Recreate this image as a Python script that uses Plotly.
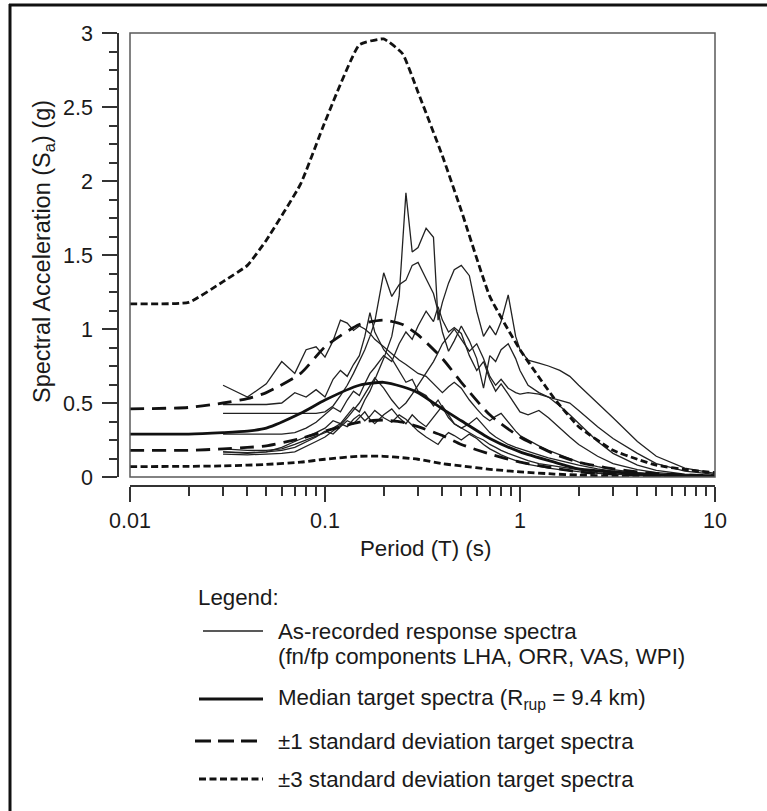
import plotly.graph_objects as go

W, H = 767, 811
ML, MR, MT, MB = 118, 52, 33, 325
PW = W - ML - MR
PH = H - MT - MB

# ---------------- data ----------------
T_target = [0.01, 0.02, 0.03, 0.04, 0.05, 0.075, 0.1, 0.15, 0.2, 0.25, 0.3,
            0.4, 0.5, 0.7, 1.0, 1.5, 2.0, 3.0, 4.0, 5.0, 7.5, 10.0]
median = [0.29, 0.29, 0.30, 0.31, 0.33, 0.43, 0.52, 0.62, 0.64, 0.61, 0.57,
          0.46, 0.38, 0.26, 0.17, 0.10, 0.055, 0.035, 0.022, 0.015, 0.008, 0.005]
plus1 = [0.46, 0.47, 0.50, 0.53, 0.57, 0.70, 0.88, 1.03, 1.06, 1.03, 0.96,
         0.80, 0.64, 0.42, 0.27, 0.155, 0.10, 0.055, 0.035, 0.024, 0.013, 0.008]
minus1 = [0.18, 0.18, 0.19, 0.20, 0.21, 0.26, 0.31, 0.37, 0.385, 0.37, 0.34,
          0.28, 0.22, 0.155, 0.10, 0.06, 0.035, 0.02, 0.013, 0.009, 0.005, 0.003]
plus3 = [1.17, 1.18, 1.32, 1.43, 1.60, 1.98, 2.40, 2.92, 2.96, 2.86, 2.60,
         2.17, 1.80, 1.22, 0.86, 0.53, 0.34, 0.18, 0.12, 0.08, 0.045, 0.03]
minus3 = [0.07, 0.072, 0.075, 0.08, 0.085, 0.10, 0.12, 0.14, 0.14, 0.13, 0.12,
          0.09, 0.075, 0.052, 0.035, 0.02, 0.013, 0.007, 0.004, 0.003, 0.0015, 0.001]

T_rec = [0.03, 0.04, 0.05, 0.06, 0.07, 0.08, 0.09, 0.10,
         0.11, 0.12, 0.13, 0.14, 0.15, 0.16, 0.17, 0.18,
         0.20, 0.22, 0.24, 0.26, 0.28, 0.30,
         0.33, 0.36, 0.38, 0.40, 0.43, 0.46, 0.50,
         0.55, 0.60, 0.65, 0.70, 0.75, 0.80, 0.87, 0.95,
         1.0, 1.1, 1.25, 1.4, 1.6, 1.8, 2.0,
         2.5, 3.0, 4.0, 5.0, 7.0, 10.0]

LHA_fn = [0.62, 0.54, 0.63, 0.78, 0.70, 0.86, 0.88, 0.81,
          0.92, 1.06, 1.04, 0.99, 1.02, 1.00, 0.97, 0.93,
          0.88, 0.83, 0.79, 0.76, 0.73, 0.70,
          0.68, 0.63, 0.60, 0.57, 0.61, 0.64, 0.60,
          0.52, 0.46, 0.41, 0.38, 0.41, 0.43, 0.37, 0.31,
          0.28, 0.25, 0.21, 0.18, 0.15, 0.12, 0.10,
          0.07, 0.05, 0.03, 0.02, 0.012, 0.007]
LHA_fp = [0.17, 0.16, 0.17, 0.20, 0.24, 0.27, 0.30, 0.33,
          0.38, 0.36, 0.42, 0.47, 0.44, 0.52, 0.58, 0.66,
          0.80, 0.95, 1.22, 1.92, 1.52, 1.55,
          1.68, 1.62, 1.06, 1.18, 1.31, 1.40, 1.43,
          1.36, 1.12, 0.95, 1.02, 0.96, 1.05, 1.23, 0.95,
          0.86, 0.79, 0.77, 0.75, 0.72, 0.68, 0.62,
          0.50, 0.40, 0.24, 0.14, 0.06, 0.025]
ORR_fn = [0.49, 0.49, 0.49, 0.50, 0.57, 0.54, 0.59, 0.54,
          0.66, 0.72, 0.68, 0.76, 0.82, 0.95, 1.11, 0.98,
          0.86, 0.80, 0.72, 0.64, 0.66, 0.58,
          0.55, 0.48, 0.52, 0.47, 0.40, 0.36, 0.33,
          0.30, 0.27, 0.25, 0.22, 0.20, 0.18, 0.16, 0.14,
          0.13, 0.11, 0.09, 0.08, 0.065, 0.055, 0.045,
          0.03, 0.022, 0.014, 0.01, 0.006, 0.004]
ORR_fp = [0.43, 0.43, 0.43, 0.43, 0.43, 0.43, 0.43, 0.44,
          0.48, 0.55, 0.62, 0.70, 0.78, 0.86, 0.95, 1.05,
          1.38, 1.22, 1.30, 1.33, 1.43, 1.45,
          1.34, 1.24, 1.12, 0.98, 0.85, 0.92, 1.02,
          0.92, 0.80, 0.60, 0.82, 0.78, 0.86, 0.90, 0.80,
          0.72, 0.62, 0.57, 0.54, 0.52, 0.50, 0.45,
          0.34, 0.26, 0.16, 0.09, 0.04, 0.018]
VAS_fn = [0.29, 0.29, 0.29, 0.29, 0.30, 0.33, 0.37, 0.42,
          0.47, 0.44, 0.52, 0.58, 0.55, 0.63, 0.70, 0.74,
          0.82, 0.78, 0.90, 0.98, 0.93, 1.02,
          1.12, 1.05, 1.15, 1.06, 0.98, 1.01, 0.97,
          0.82, 0.72, 0.78, 0.66, 0.58, 0.63, 0.56, 0.48,
          0.44, 0.42, 0.45, 0.40, 0.33, 0.27, 0.22,
          0.14, 0.09, 0.05, 0.03, 0.016, 0.009]
VAS_fp = [0.19, 0.18, 0.18, 0.19, 0.22, 0.25, 0.28, 0.30,
          0.33, 0.36, 0.34, 0.39, 0.42, 0.38, 0.41, 0.45,
          0.40, 0.37, 0.42, 0.39, 0.35, 0.31,
          0.27, 0.24, 0.22, 0.26, 0.30, 0.28, 0.25,
          0.29, 0.26, 0.22, 0.19, 0.17, 0.15, 0.13, 0.11,
          0.10, 0.085, 0.07, 0.06, 0.05, 0.042, 0.036,
          0.025, 0.018, 0.011, 0.008, 0.005, 0.003]
WPI_fn = [0.17, 0.165, 0.17, 0.18, 0.20, 0.24, 0.27, 0.31,
          0.29, 0.34, 0.38, 0.36, 0.40, 0.44, 0.39, 0.36,
          0.42, 0.46, 0.40, 0.36, 0.42, 0.38,
          0.34, 0.40, 0.44, 0.48, 0.42, 0.36, 0.33,
          0.36, 0.40, 0.35, 0.30, 0.27, 0.25, 0.22, 0.20,
          0.19, 0.17, 0.15, 0.13, 0.11, 0.095, 0.08,
          0.055, 0.04, 0.024, 0.016, 0.009, 0.005]
WPI_fp = [0.155, 0.15, 0.155, 0.16, 0.17, 0.21, 0.24, 0.27,
          0.31, 0.35, 0.40, 0.45, 0.50, 0.56, 0.62, 0.67,
          0.60, 0.52, 0.46, 0.50, 0.56, 0.62,
          0.70, 0.78, 0.84, 0.90, 0.95, 1.00, 0.93,
          0.85, 0.90, 0.80, 0.68, 0.62, 0.66, 0.60, 0.57,
          0.56, 0.57, 0.56, 0.54, 0.48, 0.42, 0.36,
          0.24, 0.16, 0.08, 0.045, 0.02, 0.01]

recorded = {"LHA fn": LHA_fn, "LHA fp": LHA_fp, "ORR fn": ORR_fn, "ORR fp": ORR_fp,
            "VAS fn": VAS_fn, "VAS fp": VAS_fp, "WPI fn": WPI_fn, "WPI fp": WPI_fp}

x_tickvals = [0.01, 0.1, 1, 10]
x_ticktext = ["0.01", "0.1", "1", "10"]
x_minor = [0.02, 0.03, 0.04, 0.05, 0.06, 0.07, 0.08, 0.09,
           0.2, 0.3, 0.4, 0.5, 0.6, 0.7, 0.8, 0.9,
           2, 3, 4, 5, 6, 7, 8, 9]
y_tickvals = [0, 0.5, 1, 1.5, 2, 2.5, 3]
y_ticktext = ["0", "0.5", "1", "1.5", "2", "2.5", "3"]

legend_rows = [
    ("As-recorded response spectra", "(fn/fp components LHA, ORR, VAS, WPI)"),
    ("Median target spectra (R<sub>rup</sub> = 9.4 km)", None),
    ("\u00b11 standard deviation target spectra", None),
    ("\u00b13 standard deviation target spectra", None),
]

# ---------------- helpers ----------------
def px_x(px):
    return (px - ML) / PW

def px_y(py):
    return (H - MB - py) / PH

FONT = "Liberation Sans, Arial, sans-serif"
TXT = "#1a1a1a"
INK = "#111111"
HS = 22.3   # horizontal text size
TS = 21.5   # tick label size

fig = go.Figure()

for name, vals in recorded.items():
    fig.add_trace(go.Scatter(x=T_rec, y=vals, mode="lines", name=name,
                             line=dict(color="#222222", width=1.3),
                             showlegend=False))

fig.add_trace(go.Scatter(x=T_target, y=minus3, mode="lines", name="-3 sigma",
                         line=dict(color=INK, width=2.8, dash="7px,3.5px", shape="spline", smoothing=0.6),
                         showlegend=False))
fig.add_trace(go.Scatter(x=T_target, y=plus3, mode="lines", name="+3 sigma",
                         line=dict(color=INK, width=2.8, dash="7px,3.5px", shape="spline", smoothing=0.4),
                         showlegend=False))
fig.add_trace(go.Scatter(x=T_target, y=minus1, mode="lines", name="-1 sigma",
                         line=dict(color=INK, width=2.8, dash="14px,8px", shape="spline", smoothing=0.6),
                         showlegend=False))
fig.add_trace(go.Scatter(x=T_target, y=plus1, mode="lines", name="+1 sigma",
                         line=dict(color=INK, width=2.8, dash="14px,8px", shape="spline", smoothing=0.6),
                         showlegend=False))
fig.add_trace(go.Scatter(x=T_target, y=median, mode="lines", name="median",
                         line=dict(color=INK, width=2.8, shape="spline", smoothing=0.6),
                         showlegend=False))

shapes = []
# plot frame
shapes.append(dict(type="rect", xref="x domain", yref="y domain", x0=0, x1=1, y0=0, y1=1,
                   line=dict(color="#5a5a5a", width=1.5), layer="above"))
# outer border (left and top)
shapes.append(dict(type="line", xref="paper", yref="paper", x0=px_x(10), x1=px_x(10),
                   y0=px_y(4), y1=px_y(820), line=dict(color="#111111", width=3)))
shapes.append(dict(type="line", xref="paper", yref="paper", x0=px_x(9), x1=px_x(780),
                   y0=px_y(5), y1=px_y(5), line=dict(color="#111111", width=3)))

# legend samples
leg_y = [631, 699, 741, 779]
shapes.append(dict(type="line", xref="paper", yref="paper", x0=px_x(203), x1=px_x(263),
                   y0=px_y(leg_y[0]), y1=px_y(leg_y[0]), line=dict(color="#222222", width=1.3)))
shapes.append(dict(type="line", xref="paper", yref="paper", x0=px_x(199), x1=px_x(263),
                   y0=px_y(leg_y[1]), y1=px_y(leg_y[1]), line=dict(color=INK, width=3)))
shapes.append(dict(type="line", xref="paper", yref="paper", x0=px_x(195), x1=px_x(263),
                   y0=px_y(leg_y[2]), y1=px_y(leg_y[2]), line=dict(color=INK, width=3, dash="16px,7px")))
shapes.append(dict(type="line", xref="paper", yref="paper", x0=px_x(199), x1=px_x(263),
                   y0=px_y(leg_y[3]), y1=px_y(leg_y[3]), line=dict(color=INK, width=3, dash="7px,3.5px")))

annotations = []
annotations.append(dict(text="Spectral Acceleration (S<sub>a</sub>) (g)", textangle=-90,
                        xref="paper", yref="paper", x=px_x(43), y=px_y(252),
                        xanchor="center", yanchor="middle", showarrow=False,
                        font=dict(family=FONT, size=23.5, color=TXT)))
annotations.append(dict(text="Period (T) (s)", xref="paper", yref="paper",
                        x=px_x(425), y=px_y(548), xanchor="center", yanchor="middle",
                        showarrow=False, font=dict(family=FONT, size=HS, color=TXT)))
annotations.append(dict(text="Legend:", xref="paper", yref="paper",
                        x=px_x(196), y=px_y(597), xanchor="left", yanchor="middle",
                        showarrow=False, font=dict(family=FONT, size=HS, color=TXT)))
annotations.append(dict(text=legend_rows[0][0], xref="paper", yref="paper",
                        x=px_x(276), y=px_y(631), xanchor="left", yanchor="middle",
                        showarrow=False, font=dict(family=FONT, size=HS, color=TXT)))
annotations.append(dict(text=legend_rows[0][1], xref="paper", yref="paper",
                        x=px_x(276), y=px_y(656), xanchor="left", yanchor="middle",
                        showarrow=False, font=dict(family=FONT, size=HS, color=TXT)))
for (label, _), yy in zip(legend_rows[1:], leg_y[1:]):
    annotations.append(dict(text=label, xref="paper", yref="paper",
                            x=px_x(276), y=px_y(yy), xanchor="left", yanchor="middle",
                            showarrow=False, font=dict(family=FONT, size=HS, color=TXT)))

dom_x0 = (130 - ML) / PW
dom_y0 = (H - MB - 477) / PH

fig.update_layout(
    width=W, height=H,
    margin=dict(l=ML, r=MR, t=MT, b=MB, pad=0),
    paper_bgcolor="white", plot_bgcolor="white",
    font=dict(family=FONT, size=20, color=TXT),
    showlegend=False,
    shapes=shapes, annotations=annotations,
    xaxis=dict(type="log", range=[-2, 1], domain=[dom_x0, 1], anchor="free", position=0,
               showline=True, linecolor="#333333", linewidth=1.5,
               ticks="outside", ticklen=15, tickwidth=1.5, tickcolor="#333333",
               tickvals=x_tickvals, ticktext=x_ticktext,
               minor=dict(ticks="outside", ticklen=9, tickwidth=1.5, tickcolor="#333333",
                          tickvals=x_minor, showgrid=False),
               showgrid=False, zeroline=False,
               tickfont=dict(family=FONT, size=TS, color=TXT)),
    yaxis=dict(range=[0, 3], domain=[dom_y0, 1], anchor="free", position=0,
               showline=True, linecolor="#333333", linewidth=1.5,
               ticks="outside", ticklen=15, tickwidth=1.5, tickcolor="#333333",
               tickvals=y_tickvals, ticktext=y_ticktext, ticklabelstandoff=5,
               minor=dict(ticks="outside", ticklen=8, tickwidth=1.5, tickcolor="#333333",
                          dtick=0.125, tick0=0, showgrid=False),
               showgrid=False, zeroline=False,
               tickfont=dict(family=FONT, size=TS, color=TXT)),
)

fig.write_html("out.html")
